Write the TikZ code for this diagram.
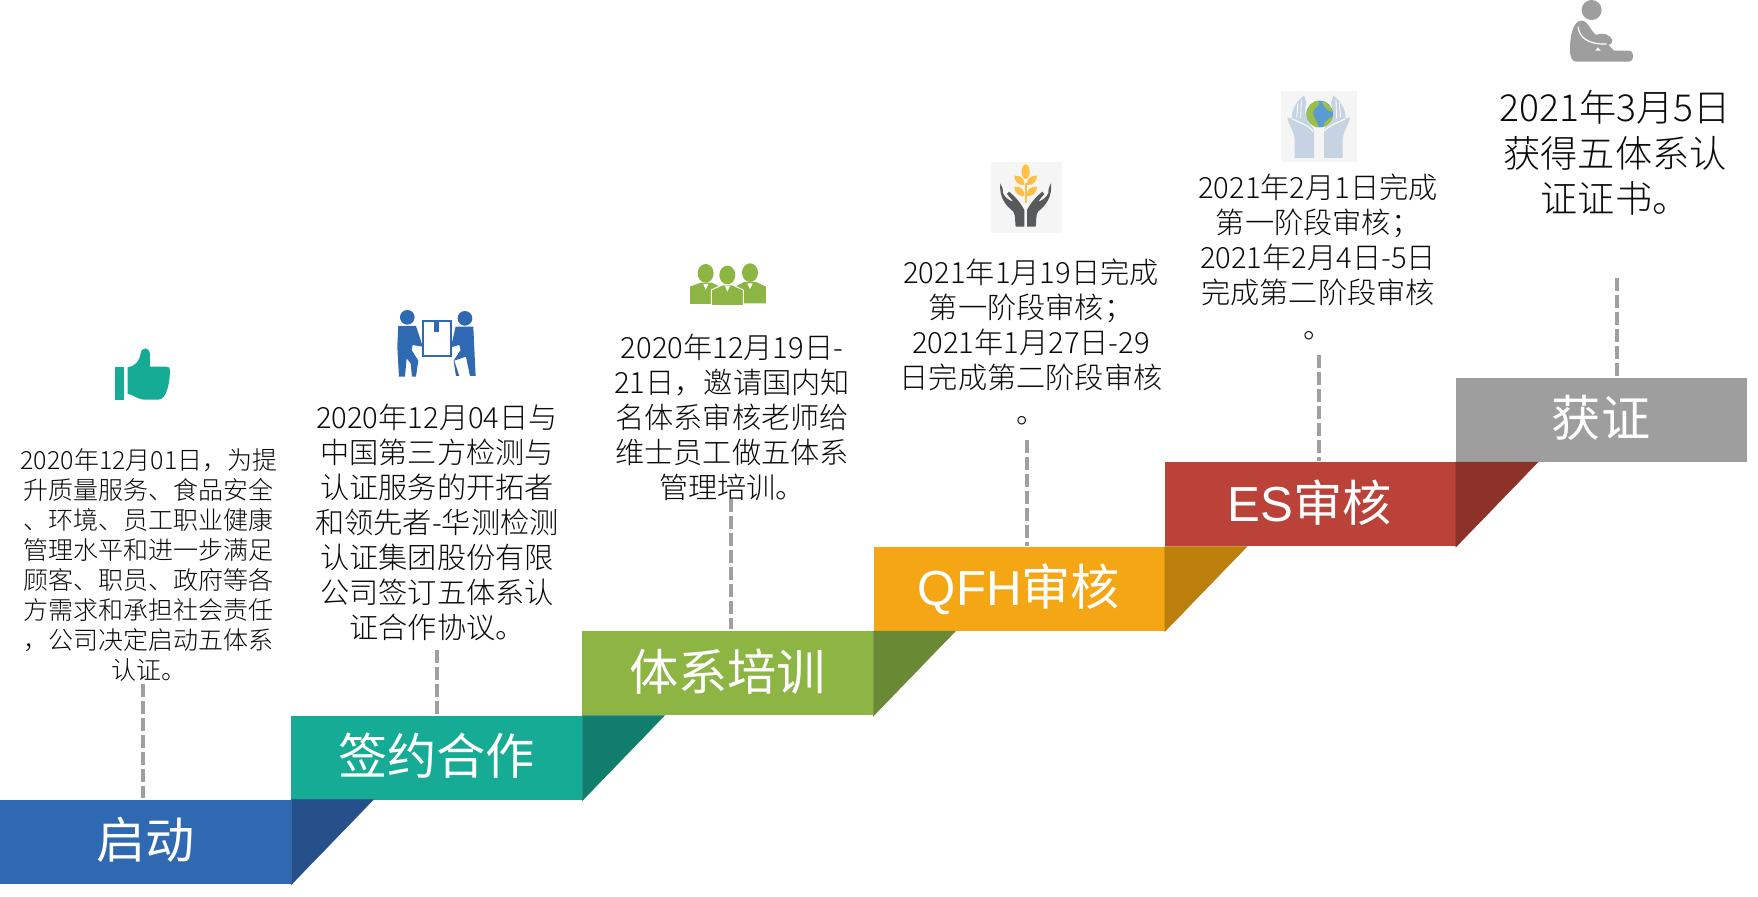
\documentclass[tikz,border=0pt]{standalone}
\usepackage{fontspec}
\setmainfont{Noto Sans CJK SC Light}
\newfontfamily\labelFont{Noto Sans CJK SC}
\newfontfamily\latinFont{Liberation Sans}
\definecolor{bgColor}{HTML}{ffffff}
\definecolor{textColor}{HTML}{0a0a0a}
\definecolor{leadColor}{HTML}{a0a0a0}
\definecolor{blueColor}{HTML}{2f69b2}
\definecolor{blueDark}{HTML}{25508a}
\definecolor{tealColor}{HTML}{16ab95}
\definecolor{tealDark}{HTML}{107d6d}
\definecolor{oliveColor}{HTML}{8cb543}
\definecolor{oliveDark}{HTML}{6a8934}
\definecolor{orangeColor}{HTML}{f5a614}
\definecolor{orangeDark}{HTML}{bc7f0c}
\definecolor{redColor}{HTML}{bb4238}
\definecolor{redDark}{HTML}{8d3229}
\definecolor{grayColor}{HTML}{9e9e9e}
\definecolor{iconBack}{HTML}{f5f5f5}
\definecolor{handDark}{HTML}{58595b}
\definecolor{wheatColor}{HTML}{fdbf44}
\definecolor{handLight}{HTML}{c5d3e2}
\definecolor{globeBlue}{HTML}{5b9bd5}
\definecolor{globeGreen}{HTML}{9cc03f}
\tikzset{
  stepBox/.style={inner sep=0pt, minimum width=145.5pt, minimum height=42pt, text height=20pt, text depth=3.4pt, text=white, font=\labelFont\fontsize{24.6pt}{28pt}\selectfont},
  noteSmall/.style={color=textColor, align=center, inner sep=0pt, font=\fontsize{12.5pt}{15pt}\selectfont},
  noteMid/.style={color=textColor, align=center, inner sep=0pt, font=\fontsize{14.6pt}{17.5pt}\selectfont},
  noteBig/.style={color=textColor, align=center, inner sep=0pt, font=\fontsize{18.6pt}{22.8pt}\selectfont},
  leadLine/.style={color=leadColor, line width=2pt, dash pattern=on 6.5pt off 2pt},
  foldEdge/.style={line width=0.25pt},
}
\begin{document}
\begin{tikzpicture}
\tikzset{x=0.5pt,y=-0.5pt}
\useasboundingbox (0,0) rectangle (1758,897);
\fill[bgColor] (0,0) rectangle (1758,897);
\node[stepBox, fill=blueColor] (boxStart) at (145.5,842) {启动};
\node[stepBox, fill=tealColor] (boxSign) at (436.5,758) {签约合作};
\node[stepBox, fill=oliveColor] (boxTrain) at (727.5,673.5) {体系培训};
\node[stepBox, fill=orangeColor] (boxQfh) at (1019,589) {{\latinFont QFH}审核};
\node[stepBox, fill=redColor] (boxEs) at (1310,504.5) {{\latinFont ES}审核};
\node[stepBox, fill=grayColor] (boxCert) at (1601,420) {获证};
\fill[blueDark, draw=blueDark, foldEdge] (boxStart.south east) -- (boxStart.north east) -- ++(82,0) -- cycle;
\fill[tealDark, draw=tealDark, foldEdge] (boxSign.south east) -- (boxSign.north east) -- ++(82,0) -- cycle;
\fill[oliveDark, draw=oliveDark, foldEdge] (boxTrain.south east) -- (boxTrain.north east) -- ++(82,0) -- cycle;
\fill[orangeDark, draw=orangeDark, foldEdge] (boxQfh.south east) -- (boxQfh.north east) -- ++(82,0) -- cycle;
\fill[redDark, draw=redDark, foldEdge] (boxEs.south east) -- (boxEs.north east) -- ++(82,0) -- cycle;
\node[noteSmall] (noteStart) at (149,565) {2020年12月01日，为提\\升质量服务、食品安全\\、环境、员工职业健康\\管理水平和进一步满足\\顾客、职员、政府等各\\方需求和承担社会责任\\，公司决定启动五体系\\认证。};
\node[noteMid] (noteSign) at (437,522.5) {2020年12月04日与\\中国第三方检测与\\认证服务的开拓者\\和领先者-华测检测\\认证集团股份有限\\公司签订五体系认\\证合作协议。};
\node[noteMid] (noteTrain) at (732,417) {2020年12月19日-\\21日，邀请国内知\\名体系审核老师给\\维士员工做五体系\\管理培训。};
\node[noteMid] (noteQfh) at (1031,341.5) {2021年1月19日完成\\第一阶段审核；\\2021年1月27日-29\\日完成第二阶段审核\\。};
\node[noteMid] (noteEs) at (1318,256.5) {2021年2月1日完成\\第一阶段审核；\\2021年2月4日-5日\\完成第二阶段审核\\。};
\node[noteBig] (noteCert) at (1615,153) {2021年3月5日\\获得五体系认\\证证书。};
\coordinate (leadStart) at (143,684);
\coordinate (leadSign) at (437,650);
\coordinate (leadTrain) at (731,499);
\coordinate (leadQfh) at (1027,440);
\coordinate (leadEs) at (1319,355);
\coordinate (leadCert) at (1617,278);
\draw[leadLine, shorten >=1pt] (leadStart) -- (leadStart |- boxStart.north);
\draw[leadLine, shorten >=1pt] (leadSign) -- (leadSign |- boxSign.north);
\draw[leadLine, shorten >=1pt] (leadTrain) -- (leadTrain |- boxTrain.north);
\draw[leadLine, shorten >=0.5pt] (leadQfh) -- (leadQfh |- boxQfh.north);
\draw[leadLine, shorten >=0.5pt] (leadEs) -- (leadEs |- boxEs.north);
\draw[leadLine, shorten >=0.5pt] (leadCert) -- (leadCert |- boxCert.north);
\begin{scope}[shift={(90,290)},scale=0.3333]
\fill[tealColor] (75,230) rectangle (103,330);
\fill[tealColor] (113,232) -- (113,312) .. controls (135,316) and (140,328) .. (165,329) -- (205,329) .. controls (232,329) and (240,270) .. (240,240) .. controls (240,233) and (236,230) .. (228,230) -- (180,230) -- (180,192) .. controls (178,170) and (155,170) .. (152,190) .. controls (148,215) and (135,228) .. (113,232) -- cycle;
\fill[blueColor] (952,82) circle (22);
\fill[blueColor] (1125,85) circle (22);
\fill[blueColor] (925,108) -- (978,108) -- (992,150) -- (998,170) -- (968,165) -- (965,180) -- (985,212) -- (978,260) -- (966,260) -- (962,220) -- (950,205) -- (945,260) -- (927,260) -- (922,170) -- cycle;
\fill[blueColor] (1097,110) -- (1150,110) -- (1157,258) -- (1140,258) -- (1128,200) -- (1093,212) -- (1108,258) -- (1098,258) -- (1091,212) -- (1112,180) -- (1108,165) -- (1082,172) -- (1088,150) -- cycle;
\draw[blueColor, line width=1.1pt] (1000,92) rectangle (1082,198);
\fill[blueColor] (1033,92) rectangle (1048,125);
\end{scope}
\begin{scope}[shift={(670,150)},scale=0.3333]
\fill[oliveColor] (107,370) ellipse (24 and 28);
\fill[oliveColor] (240,368) ellipse (24 and 28);
\fill[oliveColor] (60,462) -- (60,410) -- (92,398) -- (125,398) -- (150,410) -- (150,462) -- cycle;
\fill[oliveColor] (195,460) -- (195,410) -- (222,396) -- (258,396) -- (288,410) -- (288,460) -- cycle;
\fill[oliveColor] (172,375) ellipse (24 and 28);
\filldraw[oliveColor, draw=white, line width=0.5pt] (124,467) -- (124,420) -- (156,405) -- (188,405) -- (220,420) -- (220,467) -- cycle;
\fill[white] (100,402) -- (115,402) -- (107,420) -- cycle;
\fill[white] (232,400) -- (248,400) -- (240,418) -- cycle;
\fill[white] (165,407) -- (180,407) -- (172,425) -- cycle;
\end{scope}
\begin{scope}[shift={(985,160)},scale=0.3333]
\fill[iconBack] (18,6) rectangle (231,219);
\fill[handDark] (46,70) .. controls (42,110) and (60,135) .. (85,155) .. controls (92,165) and (90,190) .. (92,200) -- (118,200) -- (118,150) .. controls (105,125) and (85,105) .. (72,95) -- (66,102) -- (85,125) .. controls (72,122) and (60,112) .. (54,100) .. controls (54,88) and (52,78) .. (46,70) -- cycle;
\fill[handDark] (198,70) .. controls (202,110) and (184,135) .. (159,155) .. controls (152,165) and (154,190) .. (152,200) -- (126,200) -- (126,150) .. controls (139,125) and (159,105) .. (172,95) -- (178,102) -- (159,125) .. controls (172,122) and (184,112) .. (190,100) .. controls (190,88) and (192,78) .. (198,70) -- cycle;
\fill[wheatColor] (119,70) rectangle (126,130);
\fill[wheatColor] (122,35) ellipse (12 and 22);
\fill[wheatColor] (88,47) .. controls (108,45) and (120,58) .. (118,75) .. controls (100,77) and (88,64) .. (88,47) -- cycle;
\fill[wheatColor] (156,47) .. controls (136,45) and (124,58) .. (126,75) .. controls (144,77) and (156,64) .. (156,47) -- cycle;
\fill[wheatColor] (88,80) .. controls (108,78) and (120,91) .. (118,108) .. controls (100,110) and (88,97) .. (88,80) -- cycle;
\fill[wheatColor] (156,80) .. controls (136,78) and (124,91) .. (126,108) .. controls (144,110) and (156,97) .. (156,80) -- cycle;
\end{scope}
\begin{scope}[shift={(1278,88)},scale=0.3333]
\fill[iconBack] (9,9) rectangle (237,222);
\fill[handLight] (50,210) -- (50,150) .. controls (45,125) and (30,105) .. (28,88) -- (42,92) .. controls (38,70) and (55,40) .. (78,22) -- (85,45) .. controls (78,65) and (82,85) .. (90,100) .. controls (100,115) and (108,118) .. (108,135) -- (108,210) -- cycle;
\fill[handLight] (194,210) -- (194,150) .. controls (199,125) and (214,105) .. (216,88) -- (202,92) .. controls (206,70) and (189,40) .. (166,22) -- (159,45) .. controls (166,65) and (162,85) .. (154,100) .. controls (144,115) and (138,118) .. (138,135) -- (138,210) -- cycle;
\draw[white, line width=0.5pt] (42,92) .. controls (65,105) and (90,110) .. (105,130);
\draw[white, line width=0.5pt] (202,92) .. controls (179,105) and (154,110) .. (139,130);
\draw[white, line width=0.4pt] (60,45) -- (56,88);
\draw[white, line width=0.4pt] (70,35) -- (68,92);
\draw[white, line width=0.4pt] (184,45) -- (188,88);
\draw[white, line width=0.4pt] (174,35) -- (176,92);
\fill[globeBlue] (125,78) circle (40);
\fill[globeGreen] (86,72) .. controls (90,52) and (105,40) .. (122,38) .. controls (128,48) and (118,56) .. (110,62) .. controls (100,72) and (108,90) .. (118,105) .. controls (122,110) and (122,114) .. (120,118) .. controls (100,116) and (84,95) .. (86,72) -- cycle;
\fill[globeGreen] (132,40) .. controls (150,44) and (160,56) .. (164,72) .. controls (150,70) and (138,60) .. (132,40) -- cycle;
\fill[globeGreen] (135,117) .. controls (150,114) and (162,100) .. (165,85) .. controls (152,90) and (140,100) .. (135,117) -- cycle;
\end{scope}
\begin{scope}[shift={(1260,0)},scale=0.3333]
\fill[grayColor] (995,30) circle (30);
\fill[grayColor] (950,185) .. controls (935,185) and (930,170) .. (930,150) .. controls (930,110) and (938,62) .. (965,62) .. controls (985,62) and (995,100) .. (1010,105) .. controls (1030,95) and (1050,105) .. (1057,120) .. controls (1057,130) and (1050,135) .. (1045,135) -- (1062,152) -- (1105,152) .. controls (1125,152) and (1125,185) .. (1105,185) -- cycle;
\draw[white, line width=0.6pt] (955,80) .. controls (955,110) and (985,135) .. (1040,132);
\fill[white] (1006,152) -- (1022,152) -- (1014,142) -- cycle;
\end{scope}
\end{tikzpicture}
\end{document}
